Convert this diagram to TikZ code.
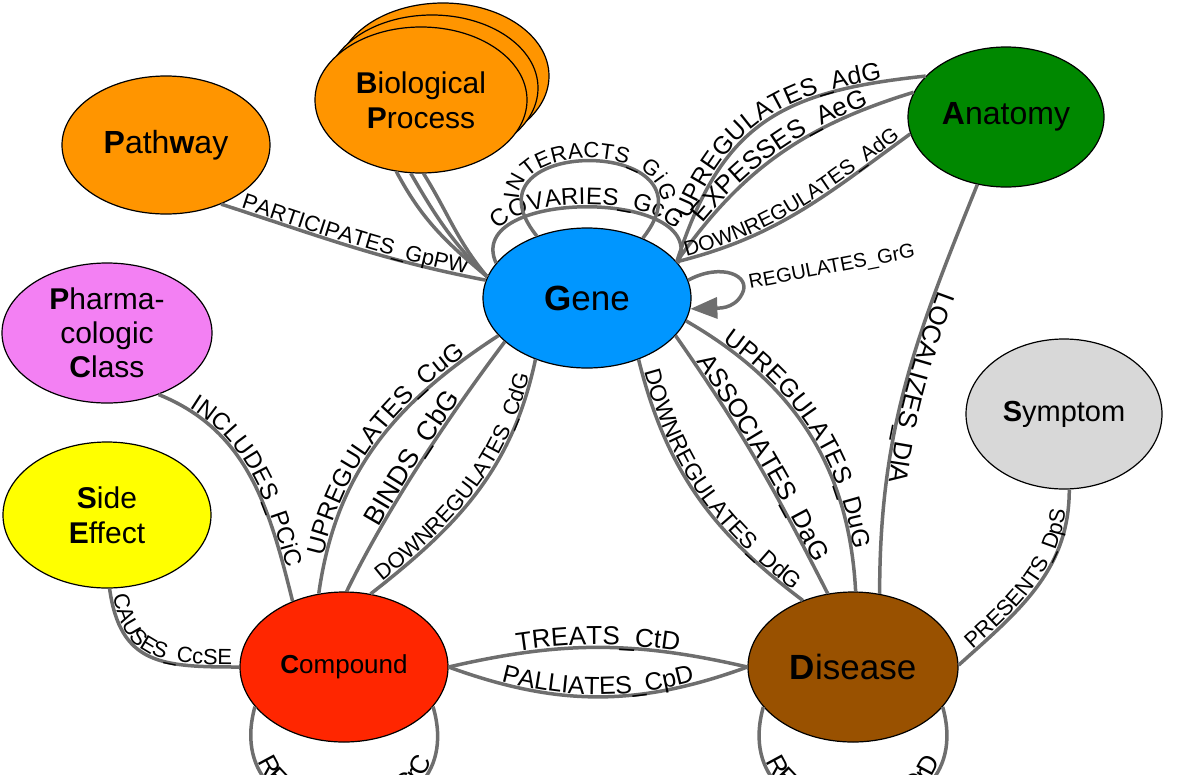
\documentclass[tikz,border=0pt]{standalone}
\usepackage{fontspec}
\setmainfont{Liberation Sans}
\usetikzlibrary{arrows.meta,shapes.geometric,decorations.text}

\definecolor{genecol}{RGB}{0,150,255}
\definecolor{anacol}{RGB}{0,136,0}
\definecolor{orangecol}{RGB}{255,149,0}
\definecolor{pccol}{RGB}{243,128,243}
\definecolor{secol}{RGB}{255,255,0}
\definecolor{compcol}{RGB}{255,38,0}
\definecolor{discol}{RGB}{153,81,0}
\definecolor{symcol}{RGB}{216,216,216}
\definecolor{edgegray}{RGB}{110,110,110}

\begin{document}
\begin{tikzpicture}[x=1pt, y=-1pt,
  entity/.style={draw, ellipse, line width=1.2pt, inner sep=0pt, align=center,
    minimum width=208pt, minimum height=146pt, font=\fontsize{30}{35}\selectfont},
  rel/.style={draw=edgegray, line width=3.5pt},
  lab/.style 2 args={postaction={decorate, decoration={text along path,
    text align=center, raise=2.5pt, text={|\fontsize{#1}{#1}\selectfont|#2}}}}]

\path[use as bounding box, clip] (0,0) rectangle (1177,774);

% Metagraph nodes
\node[entity, fill=orangecol, minimum height=138pt, font=\fontsize{32}{36}\selectfont] (pw) at (166,145) {\textbf{P}ath\textbf{w}ay};
\node[entity, fill=orangecol, minimum width=212pt] (bpb) at (443,76) {};
\node[entity, fill=orangecol, minimum width=212pt] (bpm) at (432,88) {};
\node[entity, fill=orangecol, minimum width=212pt] (bp) at (421,100) {\textbf{B}iological\\\textbf{P}rocess};
\node[entity, fill=anacol, minimum width=196pt, minimum height=140pt, font=\fontsize{32}{36}\selectfont] (ana) at (1006,117) {\textbf{A}natomy};
\node[entity, fill=genecol, minimum height=140pt, font=\fontsize{35}{40}\selectfont] (gene) at (587,298) {\textbf{G}ene};
\node[entity, fill=pccol, minimum width=210pt, minimum height=140pt, font=\fontsize{30}{34}\selectfont] (pc) at (107,333) {\textbf{P}harma-\\cologic\\\textbf{C}lass};
\node[entity, fill=secol] (se) at (107,515) {\textbf{S}ide\\\textbf{E}ffect};
\node[entity, fill=symcol, minimum width=196pt, minimum height=150pt, font=\fontsize{29}{33}\selectfont] (sym) at (1064,414) {\textbf{S}ymptom};
\node[entity, fill=compcol, minimum height=150pt, font=\fontsize{26}{30}\selectfont] (comp) at (344,667) {\textbf{C}ompound};
\node[entity, fill=discol, minimum width=210pt, minimum height=150pt, font=\fontsize{35}{40}\selectfont] (dis) at (853,667) {\textbf{D}isease};

% Gene relations
\draw[rel, lab={22}{PARTICIPATES{\_}GpPW}] (pw.-47) to[out=-18, in=169] (gene.170);
\draw[rel] (bp.-109) to[out=-62, in=140] (gene.168);
\draw[rel] (bp.-98) to[out=-60, in=135] (gene.168);
\draw[rel] (bp.-88) to[out=-58, in=130] (gene.168);
\draw[rel, lab={24}{COVARIES{\_}GcG}] (gene.159) .. controls (462,188) and (712,188) .. (gene.21);
\draw[rel, lab={22}{INTERACTS{\_}GiG}] (gene.129) .. controls (455,135) and (725,135) .. (gene.47);
\draw[rel, -{Triangle[length=27pt, width=21pt]}] (gene.10) .. controls (722,262) and (752,276) .. (742,294)
  .. controls (734,310) and (716,308) .. (gene.-6);
\node[font=\fontsize{20}{24}\selectfont, rotate=11] (grg) at (832,268) {REGULATES\_GrG};

% Anatomy
\draw[rel, lab={25}{UPREGULATES{\_}AdG}] (gene.22) to[out=72, in=186, looseness=1.2] (ana.153);
\draw[rel, lab={26}{EXPESSES{\_}AeG}] (gene.22) to[out=55, in=197] (ana.165);
\draw[rel, lab={21}{DOWNREGULATES{\_}AdG}] (gene.22) to[out=14, in=216] (ana.190);
\draw[rel, lab={26}{LOCALIZES{\_}DlA}] (ana.-113) to[out=-112, in=90] (dis.70);

% Disease
\draw[rel, lab={23}{DOWNREGULATES{\_}DdG}] (gene.-50) to[out=-76, in=143] (dis.127);
\draw[rel, lab={26}{ASSOCIATES{\_}DaG}] (gene.-23) to[out=-55, in=117] (dis.109);
\draw[rel, lab={25}{UPREGULATES{\_}DuG}] (gene.-13) to[out=-30, in=93] (dis.88);
\draw[rel, lab={22}{PRESENTS{\_}DpS}] (dis.1) to[out=42, in=-90] (sym.-86);
\draw[rel, lab={26}{RESEMBLES{\_}DrD}] (dis.204) .. controls (723,850) and (983,850) .. (dis.-24);

% Compound
\draw[rel, lab={25}{UPREGULATES{\_}CuG}] (comp.109) to[out=82, in=213] (gene.203);
\draw[rel, lab={27}{BINDS{\_}CbG}] (comp.88) to[out=64, in=233, looseness=0.8] (gene.208);
\draw[rel, lab={22}{DOWNREGULATES{\_}CdG}] (comp.70) to[out=38, in=258] (gene.230);
\draw[rel, lab={24}{INCLUDES{\_}PCiC}] (pc.-50) to[out=-22, in=104] (comp.128);
\draw[rel, lab={22}{CAUSES{\_}CcSE}] (se.-88) to[out=-82, in=180, looseness=1.3] (comp.180);
\draw[rel, lab={26}{TREATS{\_}CtD}] (comp.0) to[bend left=13] (dis.180);
\draw[rel, lab={25}{PALLIATES{\_}CpD}] (comp.0) to[bend right=20] (dis.180);
\draw[rel, lab={26}{RESEMBLES{\_}CrC}] (comp.204) .. controls (215,850) and (475,850) .. (comp.-24);

\end{tikzpicture}
\end{document}
